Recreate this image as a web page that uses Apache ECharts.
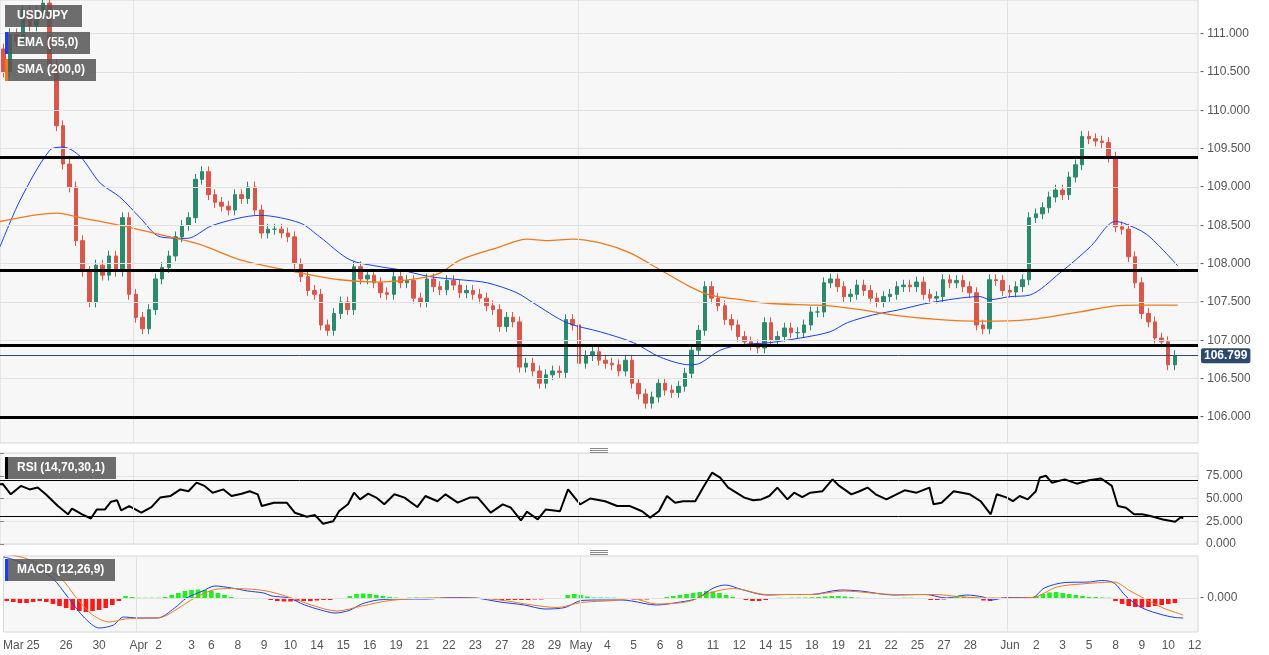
<!DOCTYPE html>
<html><head><meta charset="utf-8">
<script src="https://cdn.jsdelivr.net/npm/echarts@6/dist/echarts.min.js"></script>
<style>html,body{margin:0;padding:0;background:#fff}#c{width:1269px;height:655px}</style>
</head><body><div id="c"></div>
<script>
const closes = [110.5,111.0,110.9, 111.3,111.1,111.3, 111.4,110.6,109.8, 109.3,109.0,108.3, 107.9,107.5,107.98,
107.85,108.1,107.9, 108.6,107.6,107.3, 107.15,107.4,107.8, 107.95,108.1,108.35, 108.5,108.6,109.1,
109.2,108.9,108.8, 108.75,108.7,108.9, 108.85,109.0,108.7, 108.4,108.45,108.45, 108.4,108.35,108.0,
107.83,107.65,107.6, 107.2,107.13,107.35, 107.5,107.4,107.96, 107.8,107.85,107.75, 107.62,107.6,107.83,
107.75,107.78,107.55, 107.5,107.8,107.7, 107.66,107.78,107.72, 107.62,107.65,107.6, 107.55,107.45,107.4,
107.18,107.3,107.24, 106.65,106.7,106.6, 106.44,106.55,106.6, 106.58,107.27,107.2, 106.7,106.8,106.85,
106.74,106.7,106.68, 106.6,106.74,106.44, 106.3,106.18,106.26, 106.44,106.35,106.32, 106.4,106.57,106.87,
107.13,107.7,107.55, 107.45,107.27,107.2, 107.05,106.98,106.94, 106.9,107.23,107.0, 107.05,107.16,107.1,
107.1,107.2,107.37, 107.37,107.75,107.8, 107.7,107.57,107.6, 107.72,107.65,107.55, 107.5,107.57,107.6,
107.7,107.72,107.7, 107.76,107.6,107.55, 107.57,107.79,107.75, 107.78,107.7,107.62, 107.2,107.15,107.79,
107.78,107.65,107.63, 107.7,107.79,108.6, 108.65,108.73,108.87, 108.96,108.9,109.13, 109.29,109.66,109.63,
109.6,109.58,109.39, 108.48,108.45,108.09, 107.75,107.35,107.24, 107.03,106.98,106.68,106.8];
const firstOpen = 110.8;
const wick = 0.07;
const slots = 181;

const emaIdx = [0,3,7.4,9.4,11.9,14.9,17.8,20.8,23.8,27.8,31.6,38.6,44.6,47.5,52,56.5,59.4,63.9,68.4,72.4,76.8,79.2,84.2,89.2,94.1,98.1,102.5,104,107,110,114.4,118.9,123.3,125.9,129.7,133.7,138.2,145.6,147.1,150.1,153,157.5,162,165.7,166.9,170.4,175];
const emaVal = [108.22,108.83,109.48,109.52,109.4,109.05,108.87,108.6,108.35,108.33,108.5,108.63,108.53,108.35,108.05,107.96,107.92,107.83,107.79,107.75,107.62,107.49,107.23,107.11,106.97,106.78,106.68,106.70,106.87,106.94,106.97,107.03,107.11,107.23,107.33,107.4,107.49,107.57,107.53,107.57,107.59,107.88,108.22,108.55,108.53,108.38,107.97];
const smaIdx = [0,8.5,11.9,17.8,23.8,29.7,35.7,44.6,50.5,56.5,62.4,65.4,68.4,74.3,78.3,81.3,85.1,89.2,93.6,98.1,102.5,105.5,110,114.4,120.4,123.3,127.8,133.7,139.7,145.6,153,160.5,165.7,169.4,175];
const smaVal = [108.55,108.66,108.6,108.5,108.38,108.25,108.05,107.88,107.79,107.76,107.81,107.88,108.05,108.22,108.32,108.3,108.32,108.27,108.14,107.92,107.7,107.59,107.53,107.48,107.46,107.45,107.4,107.32,107.27,107.25,107.27,107.37,107.45,107.46,107.46];

const levels = [109.39,107.91,106.94,106.0];
const lastPrice = 106.799;
const priceTicks = [106,106.5,107,107.5,108,108.5,109,109.5,110,110.5,111];

const rsiIdx = [0,0.4,1.6,3.1,4.4,5.6,6.8,8.6,10.1,10.7,12.2,13.5,14.4,15.6,16.5,17.4,18,19.2,21,22.5,23.8,25.3,26.8,28,29.2,30.4,31.6,33.2,34.4,35.9,37.1,38.3,38.9,40.7,42.6,43.8,45.6,46.8,48,49.5,50.4,51.7,52.6,53.5,54.7,55.9,57.1,58.6,60.1,62,63.2,65,66.2,68,69.8,71,72.9,74.7,75.9,77.4,78.3,79.9,81.1,83.2,84.4,86.2,87.7,89.9,91.7,
93.6,95.4,96.6,97.9,99.1,100.3,101.5,103.3,104.6,105.8,107,108.2,109.4,110.6,111.9,113.1,114.3,115.5,117,118,119.2,120.4,122.2,123.7,124.7,126.5,127.7,128.9,130.1,131.7,133.2,134.4,136.2,138.1,138.7,139.9,141.7,144.1,145.7,147.2,148.1,149.6,150.5,151.5,152.7,153.9,154.5,155.4,156.3,158.2,160,161.8,163.6,165.2,166.1,167.3,168.5,169.7,170.9,172.8,174.6,175.5,175.8];
const rsiVal = [65.6,66,54.6,63.8,60,62,54.6,41.7,32.6,39,32.6,28,38,38,46.5,48,37,41.7,34.4,40.6,51,52.7,60,58,67.4,63.8,56.4,60,52.7,55.3,58,54.6,41.7,45.4,45.4,34.4,30,31.8,22.3,25,36.2,43.6,56.4,49,55.3,51,43.6,54.6,51,40.6,52.7,47,54.6,45.4,51,51,34.4,43.6,39.9,26,35.5,27,38,36,60,43.6,50,47,41.7,
41.7,36,29,36,52.7,45.4,47,47,63.8,78.4,73,62,56.4,51,48,49,52.7,62,49,56.4,51.6,56.4,58,71,63.8,54.6,58,62,54.6,49,54.6,59,56.4,62,43.6,45.4,58,54.6,47,32.6,54.6,51,47,52.7,49,58,73,75,67.4,71,66.3,70,72,63.8,41.7,39.9,32.6,32.6,30.7,27,24.5,29.6,28];

const macdIdx = [0,1.2,4.9,7.3,9.7,12.1,14.3,16.4,17.9,20,23,25.5,27.3,29.7,31.5,34,36.4,38.8,40,42.5,44.9,47.3,49.4,51.5,53.4,55.8,59.4,63.1,66.7,70.3,74,77.6,80.7,83.7,86.1,89.1,92.2,
93.6,97.3,100.9,103.3,105.8,107.6,110,113.7,116.7,120.4,124.7,127.7,132.6,137.4,140.5,143.5,146,147.2,149.6,153.3,155.1,158.2,161.8,163.6,165.5,167.3,169.7,172.8,174.6,175.8];
const macdVal = [0.41,0.39,0.3,0.2,0,-0.2,-0.3,-0.27,-0.19,-0.2,-0.2,-0.1,0,0.07,0.12,0.1,0.07,0.05,0.02,0,-0.07,-0.12,-0.15,-0.125,-0.06,-0.02,-0.01,-0.01,0.005,0,-0.04,-0.07,-0.11,-0.095,-0.025,-0.02,-0.02,
-0.03,-0.07,-0.04,-0.005,0.1,0.13,0.085,0.03,0.035,0.035,0.08,0.07,0.03,0.035,0,0.03,0.01,-0.02,0.005,0.005,0.1,0.155,0.16,0.175,0.15,0.015,-0.1,-0.17,-0.195,-0.2];
const sigIdx = [0,3.6,8.5,10.9,13.3,15.8,18.2,21.2,23.7,26.1,28.5,31.5,34,38.8,42.5,46.1,49.7,53.4,57.6,63.7,69.7,74,78.8,82.5,86.1,91,
93.6,97.3,102.1,105.2,108.8,113.7,120.4,125.3,132.6,138.7,142.3,146,148.4,153.3,157,160.6,165.5,167.9,170.3,172.8,175.8];
const sigVal = [0.44,0.39,0.2,0,-0.17,-0.24,-0.21,-0.2,-0.19,-0.1,0,0.085,0.095,0.075,0.01,-0.075,-0.13,-0.08,-0.025,0,0,-0.02,-0.07,-0.095,-0.045,-0.025,
-0.005,-0.06,-0.035,0.05,0.095,0.035,0.035,0.07,0.035,0.035,0.015,0,0,0.005,0.11,0.14,0.16,0.07,-0.015,-0.1,-0.17];
const hist = [-0.03,-0.04,-0.05,-0.05,-0.04,
-0.03,-0.04,-0.06,-0.08,
-0.1,-0.12,-0.13,-0.14,-0.13,-0.12,-0.1,-0.07,-0.03,
0.02,0.01,0.003,0.003,0.003,0.003,
0.01,0.03,0.05,0.07,0.08,0.085,0.08,0.07,0.05,0.03,0.01,
-0.003,-0.003,-0.003,-0.003,
-0.01,-0.02,-0.03,-0.035,-0.035,-0.03,-0.03,-0.03,-0.025,-0.02,-0.02,-0.01,-0.005,
0.02,0.04,0.045,0.04,0.03,0.02,0.01,
0.004,-0.003,0.004,0.005,-0.004,0.003,0.004,0.005,0.004,-0.003,-0.004,0.003,0.002,-0.003,
-0.01,-0.015,-0.02,-0.02,-0.02,-0.02,-0.02,-0.015,-0.015,-0.01,-0.01,-0.005,
0.03,0.04,0.03,0.015,
0.005,0.005,0.004,0.003,-0.005,-0.01,
-0.015,-0.015,-0.015,-0.01,-0.005,
0.01,0.02,0.03,0.04,0.05,0.06,0.07,0.065,0.05,0.03,0.01,
-0.01,-0.02,-0.03,-0.03,-0.02,-0.01,
0.003,-0.003,0.003,0.004,0.005,0.008,0.01,
0.015,0.02,0.02,0.015,0.01,
0.003,-0.003,-0.005,
-0.01,-0.01,-0.01,-0.008,
0.003,0.003,-0.005,-0.01,
-0.02,-0.02,-0.015,-0.01,
0.01,0.012,0.01,0.005,
-0.025,-0.03,
-0.01,0.003,0.004,0.003,0.004,0.008,
0.02,0.04,0.055,0.06,0.05,0.04,0.03,0.02,0.01,0.01,0.005,0.003,
-0.03,-0.06,-0.08,-0.09,-0.095,-0.09,-0.08,-0.07,-0.06,-0.05];

const tickIdx = [1,4,9,14,20,23,28,31,35,39,43,47,51,55,59,63,67,71,75,79,83,87,91,95,99,102,107,111,115,118,122,126,130,134,138,142,146,152,156,160,164,168,172,176,180];
const tickText = ['Mar','25','26','30','Apr','2','3','6','8','9','10','14','15','16','19','21','22','23','27','28','29','May','4','5','6','8','11','12','14','15','18','19','21','22','25','27','28','Jun','2','3','5','8','9','10','12'];
const monthIdx = [19.8,85.9,149.6];

// build
const candles = closes.map((c,i)=>{const o=i?closes[i-1]:firstOpen;return [o,c,Math.min(o,c)-wick,Math.max(o,c)+wick];});
const cats = []; for(let i=0;i<slots;i++) cats.push('');
tickIdx.forEach((k,j)=>cats[k]=tickText[j]);
const zip=(a,b)=>a.map((x,i)=>[x,b[i]]);
const FONT='Liberation Sans';
const vlines = {silent:true,symbol:'none',label:{show:false},lineStyle:{color:'#e2e2e2',type:'solid',width:1},data:monthIdx.map(v=>({xAxis:v}))};
const hidX = g=>({type:'value',gridIndex:g,min:0,max:178,show:false});

const chart = echarts.init(document.getElementById('c'));
chart.setOption({
  animation:false,
  backgroundColor:'#ffffff',
  textStyle:{fontFamily:FONT},
  grid:[
    {left:0,top:0,width:1198,height:443,show:true,backgroundColor:'#f7f7f7',borderColor:'#d3d7e3'},
    {left:0,top:453,width:1198,height:91,show:true,backgroundColor:'#f7f7f7',borderColor:'#d3d7e3'},
    {left:0,top:556,width:1198,height:76,show:true,backgroundColor:'#f7f7f7',borderColor:'#d3d7e3'}
  ],
  xAxis:[
    {type:'category',gridIndex:0,data:cats,show:false,boundaryGap:true},
    hidX(0), hidX(1),
    {type:'category',gridIndex:2,data:cats,boundaryGap:true,position:'bottom',
      axisLine:{lineStyle:{color:'#c8ccd8'}},
      axisTick:{alignWithLabel:true,interval:(i)=>cats[i]!=='',lineStyle:{color:'#888'},length:4},
      axisLabel:{interval:0,color:'#555',fontSize:12,fontFamily:FONT,margin:8,formatter:v=>v}},
    hidX(2)
  ],
  yAxis:[
    {type:'value',gridIndex:0,min:105.66,max:111.44,show:false},
    {type:'value',gridIndex:1,min:0,max:100,interval:25,position:'right',
      axisLine:{show:false},axisTick:{show:true,length:4,lineStyle:{color:'#888'}},
      splitLine:{lineStyle:{color:'#e4e4e4'}},
      axisLabel:{color:'#555',fontSize:12,margin:8,formatter:v=>v===100?'':v.toFixed(3)}},
    {type:'value',gridIndex:2,min:-0.34,max:0.42,show:false}
  ],
  series:[
    {type:'line',xAxisIndex:1,yAxisIndex:0,data:[],markLine:vlines},
    {type:'line',xAxisIndex:2,yAxisIndex:1,data:[],markLine:vlines},
    {type:'line',xAxisIndex:4,yAxisIndex:2,data:[],markLine:vlines},
    {type:'candlestick',xAxisIndex:0,yAxisIndex:0,data:candles,barWidth:4,
      itemStyle:{color:'#2b8a6c',color0:'#d9564a',borderColor:'#2b8a6c',borderColor0:'#d9564a',borderWidth:1},
      markLine:{silent:true,symbol:'none',data:[
        ...priceTicks.map(v=>({yAxis:v,lineStyle:{color:'#e2e2e2',width:1,type:'solid'},label:{show:true,position:'end',formatter:'- '+v.toFixed(3),color:'#555',fontSize:12,distance:2}})),
        ...levels.map(v=>({yAxis:v,lineStyle:{color:'#000',width:3,type:'solid'},label:{show:false}})),
        {yAxis:lastPrice,lineStyle:{color:'#2c4a6e',width:1,type:'solid'},label:{show:true,position:'end',formatter:lastPrice.toFixed(3),color:'#fff',fontWeight:'bold',fontSize:12,backgroundColor:'#2c4a6e',padding:[2,3,1,3],borderRadius:2,distance:3}}
      ]}},
    {type:'line',xAxisIndex:1,yAxisIndex:0,data:zip(emaIdx,emaVal),smooth:0.3,symbol:'none',lineStyle:{color:'#1a3dff',width:1}},
    {type:'line',xAxisIndex:1,yAxisIndex:0,data:zip(smaIdx,smaVal),smooth:0.3,symbol:'none',lineStyle:{color:'#f07a1a',width:1.3}},
    {type:'line',xAxisIndex:2,yAxisIndex:1,data:zip(rsiIdx,rsiVal),symbol:'none',lineStyle:{color:'#000',width:2},
      markLine:{silent:true,symbol:'none',label:{show:false},lineStyle:{color:'#000',width:1,type:'solid'},data:[{yAxis:70},{yAxis:30}]}},
    {type:'bar',xAxisIndex:3,yAxisIndex:2,data:hist.map(v=>({value:v,itemStyle:{color:v>=0?'#22ee22':'#ff1a1a'}})),barWidth:'70%',
      markLine:{silent:true,symbol:'none',data:[{yAxis:0,lineStyle:{color:'#e2e2e2',width:1,type:'solid'},label:{show:true,position:'end',formatter:'- 0.000',color:'#555',fontSize:12,distance:2}}]}},
    {type:'line',xAxisIndex:4,yAxisIndex:2,data:zip(macdIdx,macdVal),smooth:0.3,symbol:'none',lineStyle:{color:'#1a3dff',width:1}},
    {type:'line',xAxisIndex:4,yAxisIndex:2,data:zip(sigIdx,sigVal),smooth:0.3,symbol:'none',lineStyle:{color:'#f07a1a',width:1}}
  ],
  graphic:[
    ...[['USD/JPY',5,77,null],['EMA (55,0)',32,85,'#1a3dff'],['SMA (200,0)',59,91,'#f07a1a'],['RSI (14,70,30,1)',457,111,'#000'],['MACD (12,26,9)',559,110,'#1a3dff']].flatMap(([t,y,w,c])=>{
      const g=[{type:'rect',z:100,left:5,top:y,shape:{width:w,height:22},style:{fill:'rgba(85,85,85,0.85)'}}];
      if(c) g.push({type:'rect',z:101,left:5,top:y,shape:{width:3,height:22},style:{fill:c}});
      g.push({type:'text',z:102,left:17,top:y+5,style:{text:t,fill:'#fff',font:'bold 12px "Liberation Sans"'}});
      return g;}),
    ...[448,550].flatMap(y=>[0,2,4].map(d=>({type:'rect',z:100,left:590,top:y+d,shape:{width:18,height:1},style:{fill:'#888'}})))
  ]
});
</script></body></html>
